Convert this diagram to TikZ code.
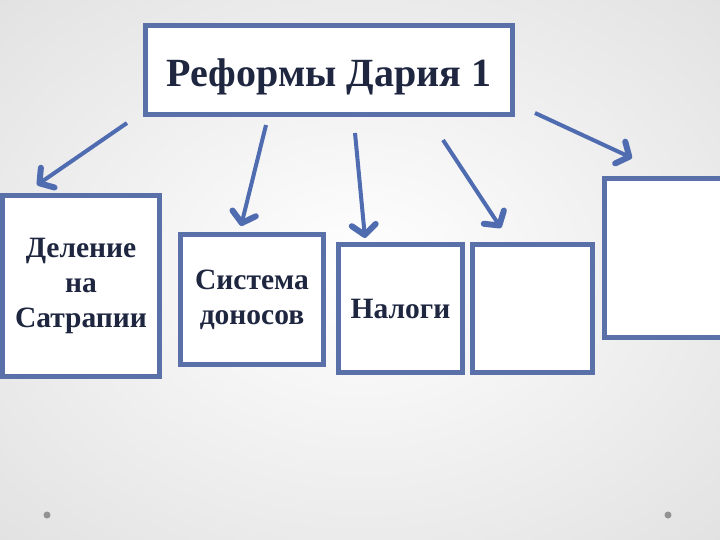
\documentclass[tikz,border=0pt]{standalone}
\usepackage{fontspec}
\setmainfont{Liberation Serif}
\usetikzlibrary{arrows.meta}
\definecolor{bord}{RGB}{90,112,168}
\definecolor{arr}{RGB}{80,108,176}
\definecolor{txt}{RGB}{30,38,64}
\tikzset{
  box/.style={draw=bord, line width=5pt, fill=white, rectangle, inner sep=0pt,
    text=txt, align=center, font=\bfseries\fontsize{29.5}{35}\selectfont},
  ttl/.style={inner sep=0pt, text=txt, font=\bfseries\fontsize{40}{48}\selectfont},
  link/.style={draw=arr, line width=4pt,
    -{Straight Barb[length=10pt, width=24pt, line width=6pt, line cap=round, line join=round]}},
  dot/.style={circle, fill=gray!85, inner sep=0pt, minimum size=7pt}
}
\begin{document}
\begin{tikzpicture}[x=1pt, y=-1pt]
\useasboundingbox (0,0) rectangle (720,540);
\clip (0,0) rectangle (720,540);
\shade[inner color=white, outer color=gray!32] (-360,-270) rectangle (1080,810);
\node[box, minimum width=367pt, minimum height=89pt] (t) at (329,70) {};
\node[ttl, anchor=base] (tl) at (329,87) {Реформы Дария 1};
\node[box, minimum width=157pt, minimum height=181pt] (b1) at (81,286) {Деление\\на\\Сатрапии};
\node[box, minimum width=143pt, minimum height=130pt] (b2) at (252,299.5) {Система\\доносов};
\node[box, minimum width=124pt, minimum height=128pt] (b3) at (400.5,308.5) {Налоги};
\node[box, minimum width=120pt, minimum height=128pt] (b4) at (532.5,308.5) {};
\node[box, minimum width=122pt, minimum height=159pt] (b5) at (665,258) {};
\coordinate (s1) at (127,123); \coordinate (e1) at (37,185);
\coordinate (s2) at (266,125); \coordinate (e2) at (241,226);
\coordinate (s3) at (355,133); \coordinate (e3) at (365,238);
\coordinate (s4) at (443,140); \coordinate (e4) at (501,228);
\coordinate (s5) at (535,113); \coordinate (e5) at (632,158);
\draw[link] (s1) -- (e1);
\draw[link] (s2) -- (e2);
\draw[link] (s3) -- (e3);
\draw[link] (s4) -- (e4);
\draw[link] (s5) -- (e5);
\node[dot] (d1) at (47,515) {};
\node[dot] (d2) at (668,515) {};
\end{tikzpicture}
\end{document}
